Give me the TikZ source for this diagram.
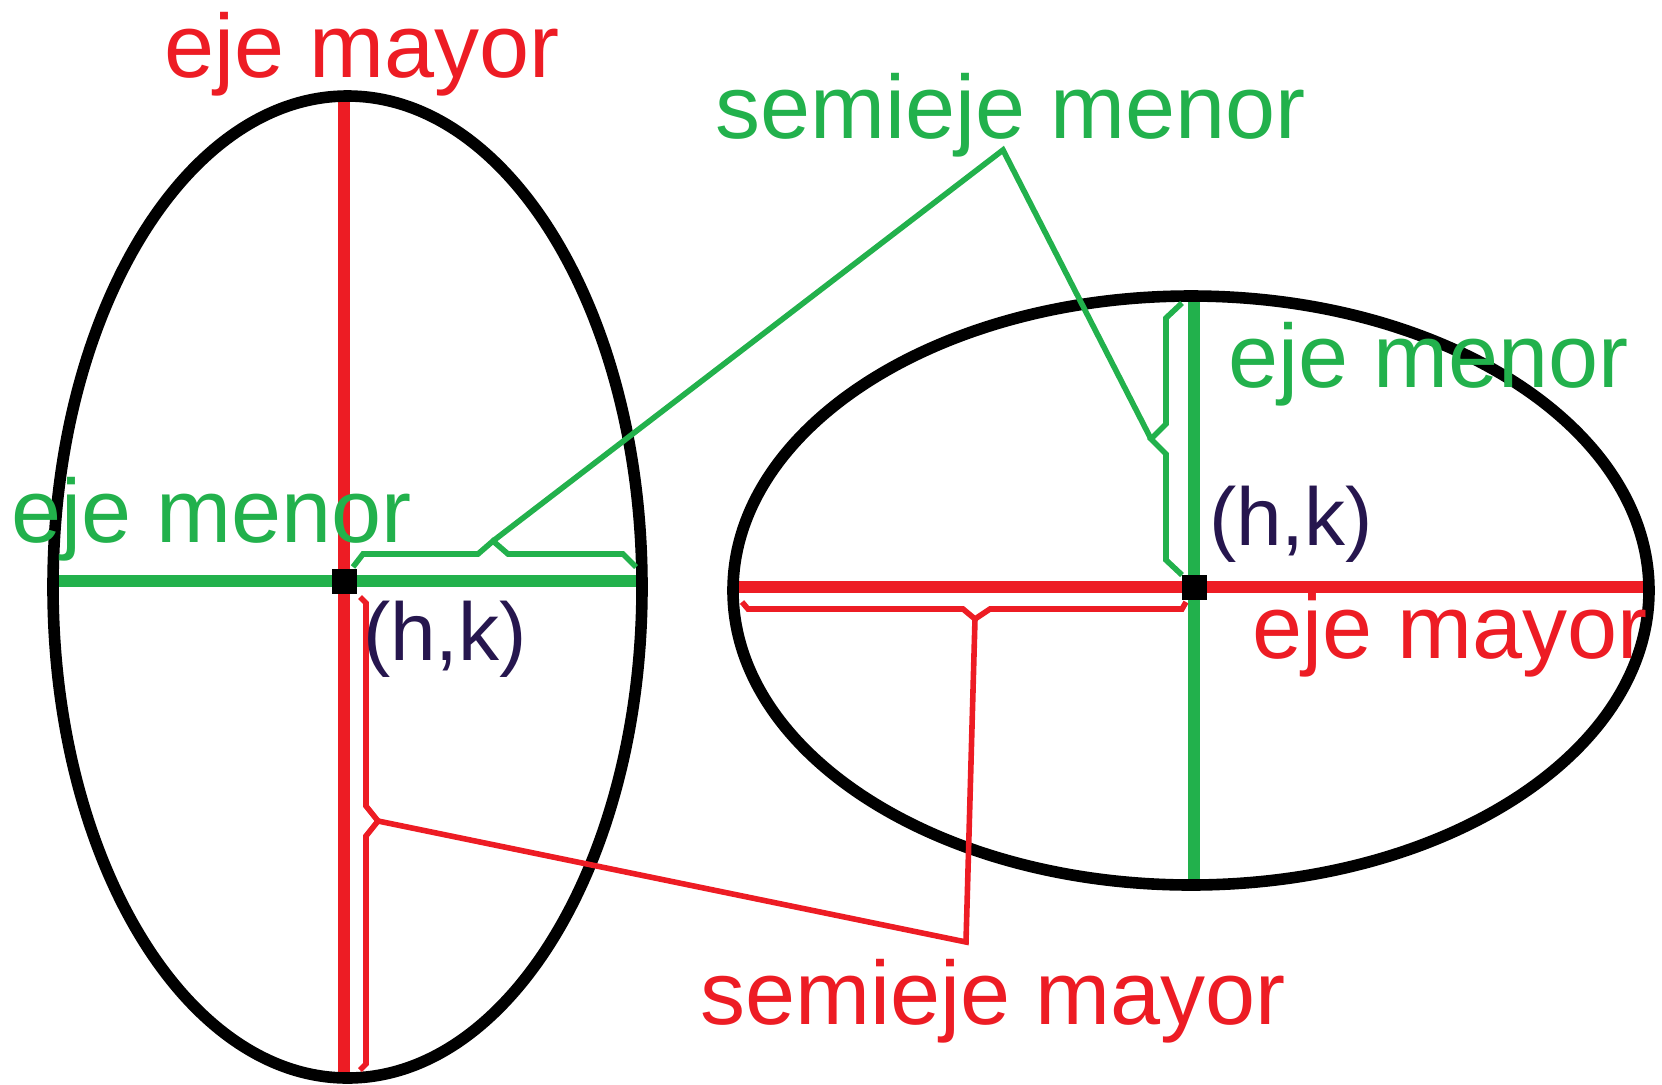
\documentclass[tikz,border=0pt]{standalone}
\usepackage{fontspec}
\setmainfont{Liberation Sans}
\definecolor{Pred}{RGB}{237,28,36}
\definecolor{Pgreen}{RGB}{34,177,76}
\definecolor{Pnavy}{RGB}{38,22,78}

\begin{document}
\begin{tikzpicture}[x=0.5pt,y=-0.5pt,
  axisline/.style={line width=6pt},
  thinline/.style={line width=2.8pt,line join=miter},
  lbl/.style={inner sep=0pt,anchor=base,font=\fontsize{45}{54}\selectfont},
  hklbl/.style={lbl,Pnavy,font=\fontsize{41}{50}\selectfont},
  hk/.style={fill=black,inner sep=0pt,minimum size=12.5pt}]
\path[use as bounding box] (0,0) rectangle (1662,1084);
% axes
\coordinate (mayLt) at (344,98);
\coordinate (mayLb) at (344,1076);
\coordinate (menLl) at (55,581);
\coordinate (menLr) at (640,581);
\coordinate (mayRl) at (735,587);
\coordinate (mayRr) at (1647,587);
\coordinate (menRt) at (1194,298);
\coordinate (menRb) at (1194,883);
\draw[axisline,Pred] (mayLt) -- (mayLb);
\draw[axisline,Pgreen] (menLl) -- (menLr);
\draw[axisline,Pred] (mayRl) -- (mayRr);
\draw[axisline,Pgreen] (menRt) -- (menRb);
% ellipses
\draw[line width=5.8pt] (347.5,587) ellipse[x radius=147.25pt,y radius=245.5pt];
\draw[line width=5.8pt] (1191,590.5) ellipse[x radius=229pt,y radius=147.25pt];
\node[hk] (hkL) at (344,581) {};
\node[hk] (hkR) at (1194,587) {};
% brackets
\coordinate (tipMenL) at (493,541);
\coordinate (tipMenR) at (1151,439);
\coordinate (apexMen) at (1003,150);
\coordinate (tipMayL) at (378,821);
\coordinate (tipMayR) at (975,619);
\coordinate (endMayR) at (966,942);
\draw[thinline,Pgreen] (353,567) -- (363,554) -- (478,554) -- (tipMenL) -- (508,554) -- (623,554) -- (636,567);
\draw[thinline,Pgreen] (1182,303) -- (1166,318) -- (1166,424) -- (tipMenR) -- (1166,454) -- (1166,560) -- (1182,575);
\draw[thinline,Pred] (360,597) -- (366,603) -- (366,806) -- (tipMayL) -- (366,836) -- (366,1064) -- (360,1070);
\draw[thinline,Pred] (742,602) -- (748,609) -- (963,609) -- (tipMayR) -- (990,609) -- (1182,609) -- (1186,602);
\draw[thinline,Pgreen] (tipMenL) -- (apexMen) -- (tipMenR);
\draw[thinline,Pred] (tipMayL) -- (endMayR) -- (tipMayR);
% labels
\node[lbl,Pred] (mayTop) at (362.5,77) {eje mayor};
\node[lbl,Pgreen] (menLeft) at (211.5,542) {eje menor};
\node[lbl,Pgreen] (semiMen) at (1011,138) {semieje menor};
\node[lbl,Pgreen] (menRight) at (1429,387) {eje menor};
\node[hklbl] (hkRlbl) at (1291,545) {(h,k)};
\node[lbl,Pred] (mayRight) at (1450,658) {eje mayor};
\node[hklbl] (hkLlbl) at (445,660) {(h,k)};
\node[lbl,Pred] (semiMay) at (993.5,1024) {semieje mayor};
\end{tikzpicture}
\end{document}
